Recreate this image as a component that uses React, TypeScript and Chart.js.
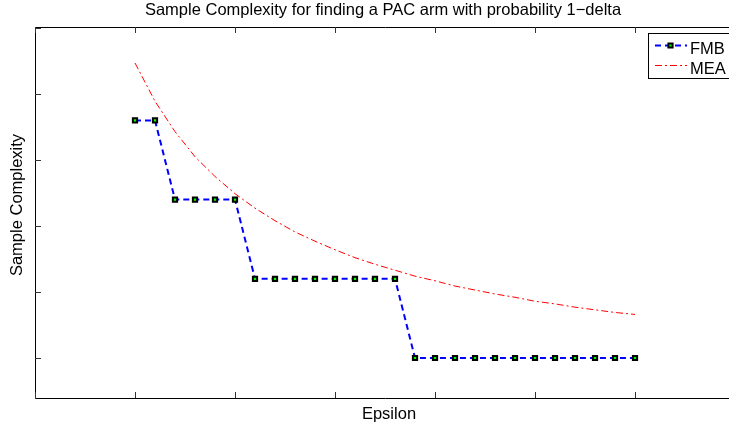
import React, { useEffect, useRef } from 'react';
import { Chart, registerables } from 'chart.js';

Chart.register(...registerables);

// ---------- data ----------
const epsilon = [
  0.05, 0.06, 0.07, 0.08, 0.09, 0.1, 0.11, 0.12, 0.13, 0.14, 0.15, 0.16, 0.17,
  0.18, 0.19, 0.2, 0.21, 0.22, 0.23, 0.24, 0.25, 0.26, 0.27, 0.28, 0.29, 0.3,
];
const fmbValues = [
  4.6, 4.6, 3.4, 3.4, 3.4, 3.4, 2.2, 2.2, 2.2, 2.2, 2.2, 2.2, 2.2, 2.2, 1.0,
  1.0, 1.0, 1.0, 1.0, 1.0, 1.0, 1.0, 1.0, 1.0, 1.0, 1.0,
];
const meaValues = [
  5.47, 4.89, 4.43, 4.05, 3.75, 3.49, 3.27, 3.08, 2.91, 2.77, 2.64, 2.52, 2.42,
  2.33, 2.24, 2.17, 2.09, 2.03, 1.97, 1.92, 1.86, 1.82, 1.77, 1.73, 1.69, 1.66,
];
const xTicks = [0, 0.05, 0.1, 0.15, 0.2, 0.25, 0.3, 0.35];
const yTicks = [1, 2, 3, 4, 5, 6];
const xRange = [0, 0.35];
const yRange = [0.394, 6.015];
const seriesNames = ['FMB', 'MEA'];
const titleText = 'Sample Complexity for finding a PAC arm with probability 1\u2212delta';
const xLabel = 'Epsilon';
const yLabel = 'Sample Complexity';

const FONT = '16.5px "Liberation Sans", Arial, Helvetica, sans-serif';

const matlabPlugin = {
  id: 'matlabFrame',
  afterDatasetsDraw(chart: any) {
    const { ctx, chartArea } = chart;
    const xs = chart.scales.x;
    const ys = chart.scales.y;
    const L = chartArea.left, R = chartArea.right, T = chartArea.top, B = chartArea.bottom;
    ctx.save();
    // frame
    ctx.strokeStyle = '#000';
    ctx.lineWidth = 1;
    ctx.setLineDash([]);
    ctx.beginPath();
    ctx.rect(L + 0.5, T + 0.5, R - L, B - T);
    ctx.stroke();
    // ticks (inward)
    const tl = 6;
    ctx.strokeStyle = '#333';
    ctx.beginPath();
    xTicks.forEach((v) => {
      const px = Math.round(xs.getPixelForValue(v)) + 0.5;
      ctx.moveTo(px, B);
      ctx.lineTo(px, B - tl);
      ctx.moveTo(px, T);
      ctx.lineTo(px, T + tl);
    });
    yTicks.forEach((v) => {
      const py = Math.round(ys.getPixelForValue(v)) + 0.5;
      ctx.moveTo(L, py);
      ctx.lineTo(L + tl, py);
      ctx.moveTo(R, py);
      ctx.lineTo(R - tl, py);
    });
    ctx.stroke();

    // texts
    ctx.fillStyle = '#000';
    ctx.font = FONT;
    ctx.textAlign = 'center';
    ctx.textBaseline = 'alphabetic';
    ctx.fillText(titleText, 383, 15);
    ctx.fillText(xLabel, 389, 419);
    ctx.save();
    ctx.translate(22, 205);
    ctx.rotate(-Math.PI / 2);
    ctx.fillText(yLabel, 0, 0);
    ctx.restore();

    // legend
    const lx = 648, ly = 33, lw = 87, lh = 45;
    ctx.fillStyle = '#fff';
    ctx.fillRect(lx, ly, lw, lh);
    ctx.strokeStyle = '#000';
    ctx.lineWidth = 1;
    ctx.strokeRect(lx + 0.5, ly + 0.5, lw, lh);
    const ds = chart.data.datasets;
    const rows = [45, 65];
    rows.forEach((ry, i) => {
      const d = ds[i];
      ctx.save();
      ctx.strokeStyle = d.borderColor;
      ctx.lineWidth = d.borderWidth;
      ctx.setLineDash(d.borderDash || []);
      ctx.beginPath();
      ctx.moveTo(655, ry + 0.5);
      ctx.lineTo(687, ry + 0.5);
      ctx.stroke();
      ctx.restore();
      if (d.pointRadius > 0) {
        ctx.save();
        ctx.fillStyle = d.pointBackgroundColor;
        ctx.strokeStyle = d.pointBorderColor;
        ctx.lineWidth = d.pointBorderWidth;
        const s = 2.1;
        ctx.beginPath();
        ctx.rect(670.5 - s, ry + 0.5 - s, 2 * s, 2 * s);
        ctx.fill();
        ctx.stroke();
        ctx.restore();
      }
      ctx.fillStyle = '#000';
      ctx.textAlign = 'left';
      ctx.textBaseline = 'alphabetic';
      ctx.fillText(seriesNames[i], 690, ry + 8.5);
    });
    ctx.restore();
  },
};

export default function App() {
  const ref = useRef<HTMLCanvasElement | null>(null);
  useEffect(() => {
    if (!ref.current) return;
    const chart = new Chart(ref.current, {
      type: 'line',
      data: {
        datasets: [
          {
            label: seriesNames[0],
            data: epsilon.map((e, i) => ({ x: e, y: fmbValues[i] })),
            borderColor: '#0000ff',
            borderWidth: 2,
            borderDash: [6, 4],
            pointStyle: 'rect',
            pointRadius: 3,
            pointBorderWidth: 2,
            pointBackgroundColor: '#00ff00',
            pointBorderColor: '#000000',
            tension: 0,
            fill: false,
          },
          {
            label: seriesNames[1],
            data: epsilon.map((e, i) => ({ x: e, y: meaValues[i] })),
            borderColor: '#ff0000',
            borderWidth: 1,
            borderDash: [7, 3, 2, 3],
            pointRadius: 0,
            tension: 0,
            fill: false,
          },
        ],
      },
      options: {
        responsive: false,
        animation: false,
        devicePixelRatio: 1,
        layout: { padding: { left: 35, right: 10, top: 27, bottom: 30 } },
        scales: {
          x: { type: 'linear', display: false, min: xRange[0], max: xRange[1] },
          y: { type: 'linear', display: false, min: yRange[0], max: yRange[1] },
        },
        plugins: {
          legend: { display: false },
          tooltip: { enabled: false },
          title: { display: false },
        },
        events: [],
      },
      plugins: [matlabPlugin],
    } as any);
    return () => chart.destroy();
  }, []);
  return (
    <div
      style={{
        position: 'fixed',
        left: 0,
        top: 0,
        width: 729,
        height: 428,
        overflow: 'hidden',
        background: '#fff',
      }}
    >
      <canvas ref={ref} width={745} height={428} style={{ display: 'block', width: 745, height: 428 }} />
    </div>
  );
}
